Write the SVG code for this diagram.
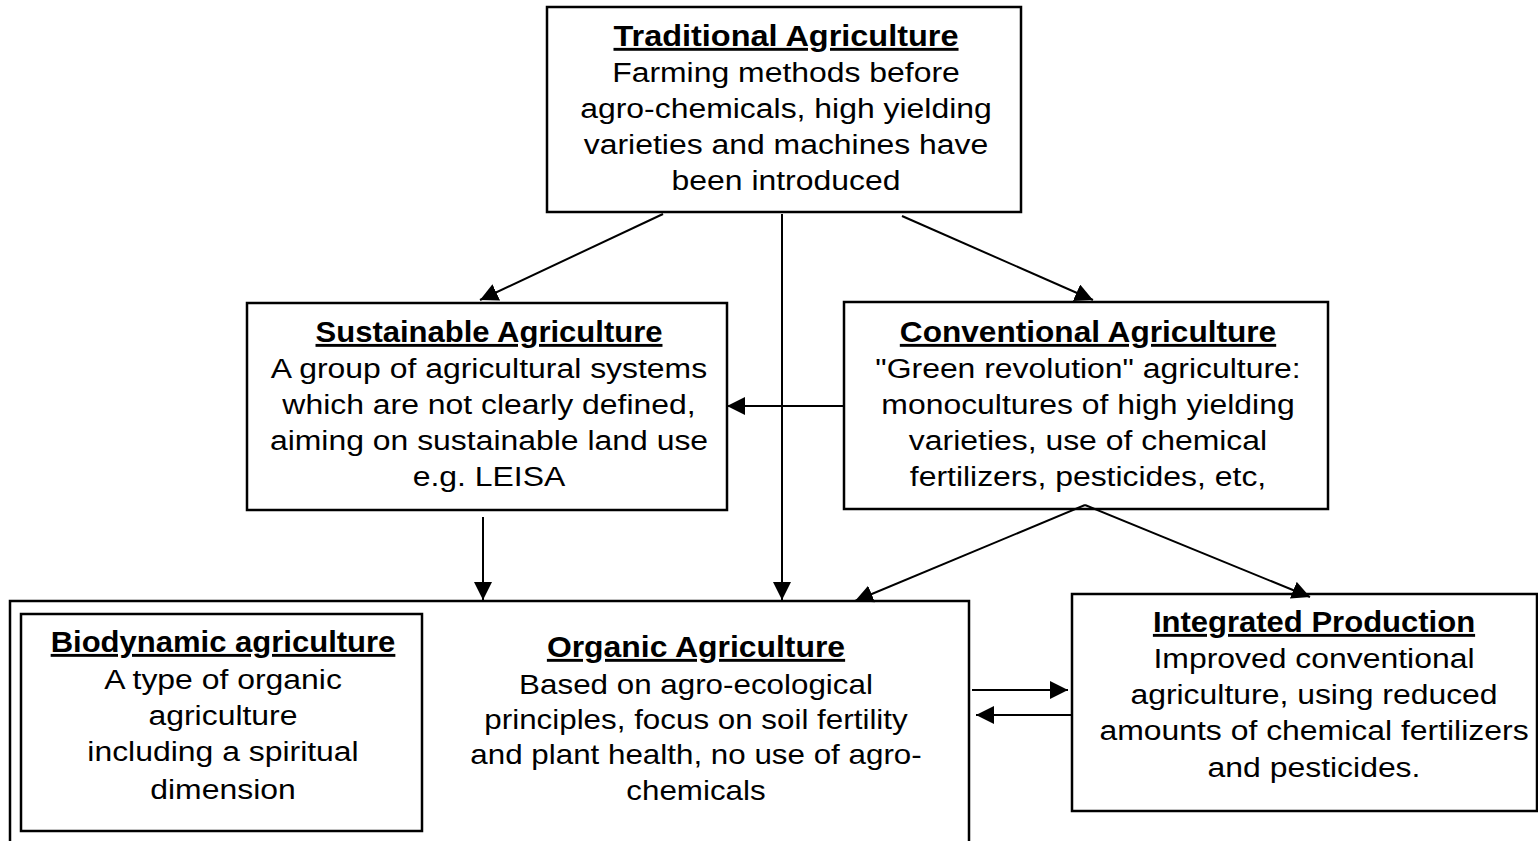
<svg xmlns="http://www.w3.org/2000/svg" width="1538" height="841" viewBox="0 0 1538 841">
<style>
.box{fill:#fff;stroke:#000;stroke-width:2.5}
.ttl{font-family:"Liberation Sans",Arial,sans-serif;font-weight:bold;font-size:29px;text-decoration:underline;text-anchor:middle;fill:#000}
.bod{font-family:"Liberation Sans",Arial,sans-serif;font-size:28px;text-anchor:middle;fill:#000}
.con{fill:none;stroke:#000;stroke-width:2}
</style>
<defs>
<marker id="ah" markerUnits="userSpaceOnUse" markerWidth="20" markerHeight="18" refX="18" refY="9" orient="auto">
<path d="M0,0 L18,9 L0,18 Z" fill="#000"/>
</marker>
</defs>
<rect width="1538" height="841" fill="#fff"/>
<g id="traditional">
<rect class="box" x="547" y="7" width="474" height="205"/>
<g transform="translate(786,0)">
<text class="ttl" transform="scale(1.12,1)" x="0" y="46">Traditional Agriculture</text>
<text class="bod" transform="scale(1.14,1)"><tspan x="0" y="82">Farming methods before</tspan><tspan x="0" y="118">agro-chemicals, high yielding</tspan><tspan x="0" y="154">varieties and machines have</tspan><tspan x="0" y="190">been introduced</tspan></text>
</g>
</g>
<g id="sustainable">
<rect class="box" x="247" y="303" width="480" height="207"/>
<g transform="translate(489,0)">
<text class="ttl" transform="scale(1.07,1)" x="0" y="342">Sustainable Agriculture</text>
<text class="bod" transform="scale(1.14,1)"><tspan x="0" y="378">A group of agricultural systems</tspan><tspan x="0" y="414">which are not clearly defined,</tspan><tspan x="0" y="450">aiming on sustainable land use</tspan><tspan x="0" y="486">e.g. LEISA</tspan></text>
</g>
</g>
<g id="conventional">
<rect class="box" x="844" y="302" width="484" height="207"/>
<g transform="translate(1088,0)">
<text class="ttl" transform="scale(1.09,1)" x="0" y="342">Conventional Agriculture</text>
<text class="bod" transform="scale(1.14,1)"><tspan x="0" y="378">"Green revolution" agriculture:</tspan><tspan x="0" y="414">monocultures of high yielding</tspan><tspan x="0" y="450">varieties, use of chemical</tspan><tspan x="0" y="486">fertilizers, pesticides, etc,</tspan></text>
</g>
</g>
<g id="organic">
<path class="box" d="M10,842 V601 H969 V842"/>
<g transform="translate(696,0)">
<text class="ttl" transform="scale(1.1,1)" x="0" y="657">Organic Agriculture</text>
<text class="bod" transform="scale(1.12,1)"><tspan x="0" y="694">Based on agro-ecological</tspan><tspan x="0" y="729">principles, focus on soil fertility</tspan><tspan x="0" y="764">and plant health, no use of agro-</tspan><tspan x="0" y="800">chemicals</tspan></text>
</g>
</g>
<g id="biodynamic">
<rect class="box" x="21" y="614" width="401" height="217"/>
<g transform="translate(223,0)">
<text class="ttl" transform="scale(1.07,1)" x="0" y="652">Biodynamic agriculture</text>
<text class="bod" transform="scale(1.14,1)"><tspan x="0" y="689">A type of organic</tspan><tspan x="0" y="725">agriculture</tspan><tspan x="0" y="761">including a spiritual</tspan><tspan x="0" y="799">dimension</tspan></text>
</g>
</g>
<g id="integrated">
<rect class="box" x="1072" y="594" width="465" height="217"/>
<g transform="translate(1314,0)">
<text class="ttl" transform="scale(1.07,1)" x="0" y="632">Integrated Production</text>
<text class="bod" transform="scale(1.14,1)"><tspan x="0" y="668">Improved conventional</tspan><tspan x="0" y="704">agriculture, using reduced</tspan><tspan x="0" y="740">amounts of chemical fertilizers</tspan><tspan x="0" y="777">and pesticides.</tspan></text>
</g>
</g>
<g id="connectors">
<path class="con" d="M663,214 L480,300" marker-end="url(#ah)"/>
<path class="con" d="M782,214 L782,600" marker-end="url(#ah)"/>
<path class="con" d="M902,216 L1093,300" marker-end="url(#ah)"/>
<path class="con" d="M843,406 L727,406" marker-end="url(#ah)"/>
<path class="con" d="M483,517 L483,600" marker-end="url(#ah)"/>
<path class="con" d="M1085,505 L855,601" marker-end="url(#ah)"/>
<path class="con" d="M1085,505 L1310,597" marker-end="url(#ah)"/>
<path class="con" d="M972,690 L1068,690" marker-end="url(#ah)"/>
<path class="con" d="M1072,715 L976,715" marker-end="url(#ah)"/>
</g>
</svg>
